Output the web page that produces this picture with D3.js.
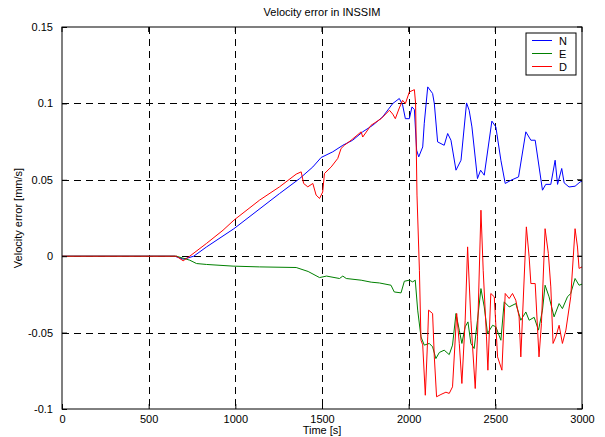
<!DOCTYPE html>
<html>
<head>
  <script src="https://cdnjs.cloudflare.com/ajax/libs/d3/7.8.5/d3.min.js" type="text/javascript"></script>
  <style>
    body { margin: 0; background: #fff; }
    text { font-family: "Liberation Sans", Arial, sans-serif; font-size: 11px; fill: #000; }
  </style>
</head>
<body>
  <svg id="chart" style="width:605px;height:437px;"></svg>
  <script>

var xTicks = [0, 500, 1000, 1500, 2000, 2500, 3000];
var yTicks = [-0.1, -0.05, 0, 0.05, 0.1, 0.15];
var yTickLabels = ["-0.1", "-0.05", "0", "0.05", "0.1", "0.15"];

var seriesNames = ["N", "E", "D"];
var seriesColors = ["#0000ff", "#008000", "#ff0000"];

// N
var tN = [0, 650, 700, 760, 833, 992, 1255, 1371, 1447, 1495, 1562, 1620, 1677, 1735, 1793, 1850, 1908, 1946, 1965, 1981, 2004, 2019, 2033, 2046, 2058, 2081, 2090, 2110, 2138, 2148, 2167, 2205, 2225, 2244, 2273, 2302, 2334, 2349, 2365, 2397, 2415, 2436, 2480, 2503, 2532, 2557, 2590, 2634, 2676, 2705, 2730, 2772, 2791, 2820, 2845, 2859, 2883, 2897, 2925, 2960, 2989, 3000];
var vN = [0, 0, -0.002, 0, 0.006, 0.018, 0.041, 0.0508, 0.0584, 0.0646, 0.0683, 0.0726, 0.0759, 0.0814, 0.0857, 0.0912, 0.0999, 0.1032, 0.099, 0.090, 0.090, 0.0977, 0.096, 0.0694, 0.065, 0.0715, 0.087, 0.1108, 0.1065, 0.0999, 0.0748, 0.0726, 0.0803, 0.0759, 0.0563, 0.0628, 0.1003, 0.0955, 0.0846, 0.0508, 0.0563, 0.053, 0.0884, 0.0846, 0.0628, 0.0476, 0.0497, 0.0519, 0.0814, 0.0759, 0.0759, 0.0432, 0.047, 0.047, 0.0628, 0.047, 0.0574, 0.048, 0.0453, 0.0458, 0.0486, 0.049];

// E
var tE = [0, 660, 737, 776, 833, 987, 1140, 1351, 1420, 1486, 1526, 1601, 1620, 1640, 1726, 1784, 1831, 1898, 1917, 1956, 1975, 2004, 2023, 2038, 2052, 2071, 2090, 2119, 2138, 2157, 2177, 2205, 2234, 2253, 2273, 2292, 2307, 2326, 2342, 2359, 2378, 2397, 2417, 2436, 2455, 2484, 2503, 2532, 2551, 2580, 2618, 2647, 2676, 2695, 2724, 2749, 2772, 2787, 2810, 2839, 2868, 2887, 2916, 2935, 2960, 2983, 3000];
var vE = [0, 0, -0.0026, -0.0048, -0.0054, -0.0065, -0.007, -0.0074, -0.010, -0.014, -0.013, -0.0146, -0.013, -0.0146, -0.0157, -0.017, -0.0175, -0.019, -0.0234, -0.024, -0.0164, -0.0157, -0.0168, -0.0157, -0.0353, -0.0528, -0.0582, -0.0571, -0.0593, -0.067, -0.063, -0.0615, -0.0644, -0.0582, -0.0375, -0.0484, -0.0571, -0.0462, -0.043, -0.0571, -0.0604, -0.0419, -0.0212, -0.0332, -0.0506, -0.0452, -0.0462, -0.055, -0.0299, -0.0332, -0.031, -0.0419, -0.0365, -0.0419, -0.04, -0.0484, -0.0353, -0.019, -0.0266, -0.0397, -0.031, -0.0343, -0.0266, -0.0244, -0.0146, -0.019, -0.0183];

// D
var tD = [0, 660, 699, 737, 833, 929, 992, 1140, 1255, 1351, 1380, 1394, 1418, 1447, 1466, 1486, 1504, 1514, 1553, 1591, 1610, 1629, 1668, 1726, 1735, 1783, 1841, 1889, 1908, 1923, 1946, 1965, 1981, 2004, 2033, 2040, 2048, 2062, 2071, 2081, 2096, 2110, 2115, 2138, 2148, 2161, 2186, 2215, 2234, 2253, 2277, 2292, 2307, 2326, 2340, 2359, 2384, 2397, 2417, 2430, 2449, 2457, 2474, 2494, 2513, 2538, 2557, 2580, 2599, 2618, 2637, 2647, 2679, 2695, 2705, 2730, 2752, 2766, 2787, 2806, 2820, 2833, 2849, 2868, 2887, 2907, 2935, 2960, 2974, 2983, 3000];
var vD = [0, 0, -0.003, 0, 0.0083, 0.017, 0.0236, 0.0367, 0.0454, 0.0537, 0.0552, 0.0476, 0.0454, 0.0476, 0.040, 0.0378, 0.042, 0.0541, 0.0584, 0.064, 0.0705, 0.0726, 0.0759, 0.0814, 0.078, 0.0857, 0.090, 0.0955, 0.093, 0.090, 0.097, 0.102, 0.0999, 0.1075, 0.109, 0.100, 0.040, -0.0092, -0.055, -0.058, -0.091, -0.0528, -0.0353, -0.0375, -0.0659, -0.092, -0.0905, -0.089, -0.0898, -0.0855, -0.0375, -0.057, -0.0833, -0.0419, 0.0061, -0.0419, -0.0866, -0.0528, 0.0301, -0.0092, -0.0528, -0.0746, -0.0244, -0.0266, -0.0659, -0.0746, -0.0244, -0.0277, -0.0244, -0.0288, -0.0397, -0.0659, 0.0192, -0.0004, -0.0179, -0.0179, -0.0659, -0.044, 0.018, 0.0017, -0.0201, -0.0571, -0.0528, -0.0452, -0.0571, -0.0484, -0.0266, 0.018, 0.006, -0.008, -0.007];

var width = 605, height = 437;
var margin = {left: 62, right: 23, top: 27, bottom: 28};

var svg = d3.select("#chart").attr("width", width).attr("height", height);

var x = d3.scaleLinear().domain([0, 3000]).range([margin.left, width - margin.right]);
var y = d3.scaleLinear().domain([-0.1, 0.15]).range([height - margin.bottom, margin.top]);

// grid
svg.append("g").selectAll("line").data(xTicks.slice(1, -1)).enter().append("line")
  .attr("x1", d => Math.round(x(d)) + 0.5).attr("x2", d => Math.round(x(d)) + 0.5)
  .attr("y1", y(0.15)).attr("y2", y(-0.1))
  .attr("stroke", "#000").attr("stroke-dasharray", "7,5").attr("stroke-width", 1);
svg.append("g").selectAll("line").data(yTicks.slice(1, -1)).enter().append("line")
  .attr("y1", d => Math.round(y(d)) + 0.5).attr("y2", d => Math.round(y(d)) + 0.5)
  .attr("x1", x(0)).attr("x2", x(3000))
  .attr("stroke", "#000").attr("stroke-dasharray", "7,5").attr("stroke-width", 1);

// lines
var line = d3.line().x(d => x(d[0])).y(d => y(d[1]));
var series = [
  d3.zip(tN, vN),
  d3.zip(tE, vE),
  d3.zip(tD, vD)
];
series.forEach(function(s, i) {
  svg.append("path").datum(s)
    .attr("d", line)
    .attr("fill", "none")
    .attr("stroke", seriesColors[i])
    .attr("stroke-width", 1)
    .attr("stroke-linejoin", "round");
});

// axes (ticks inside)
var xAxis = d3.axisBottom(x).tickValues(xTicks).tickSize(-5).tickPadding(9).tickFormat(d3.format("d"));
var yAxis = d3.axisLeft(y).tickValues(yTicks).tickSize(-5).tickPadding(9)
  .tickFormat((d, i) => yTickLabels[i]);

var gx = svg.append("g").attr("transform", "translate(0," + y(-0.1) + ")").call(xAxis);
var gy = svg.append("g").attr("transform", "translate(" + x(0) + ",0)").call(yAxis);
[gx, gy].forEach(function(g) {
  g.select(".domain").remove();
  g.selectAll("text").style("font-family", "Liberation Sans, Arial, sans-serif").style("font-size", "11px").attr("fill", "#000");
});
gx.selectAll("text").attr("dy", "0.45em");

// top and right ticks
svg.append("g").selectAll("line").data(xTicks).enter().append("line")
  .attr("x1", d => x(d)).attr("x2", d => x(d)).attr("y1", y(0.15)).attr("y2", y(0.15) + 5)
  .attr("stroke", "#000");
svg.append("g").selectAll("line").data(yTicks).enter().append("line")
  .attr("y1", d => y(d)).attr("y2", d => y(d)).attr("x1", x(3000)).attr("x2", x(3000) - 5)
  .attr("stroke", "#000");

// box
svg.append("rect")
  .attr("x", x(0)).attr("y", y(0.15))
  .attr("width", x(3000) - x(0)).attr("height", y(-0.1) - y(0.15))
  .attr("fill", "none").attr("stroke", "#000").attr("stroke-width", 1);

// title and labels
svg.append("text").attr("x", (x(0) + x(3000)) / 2).attr("y", 16).attr("text-anchor", "middle")
  .text("Velocity error in INSSIM");
svg.append("text").attr("x", (x(0) + x(3000)) / 2).attr("y", 434).attr("text-anchor", "middle")
  .text("Time [s]");
svg.append("text").attr("transform", "translate(22," + ((y(0.15) + y(-0.1)) / 2) + ") rotate(-90)")
  .attr("text-anchor", "middle").text("Velocity error [mm/s]");

// legend
var lg = svg.append("g").attr("transform", "translate(526,33)");
lg.append("rect").attr("width", 50).attr("height", 42).attr("fill", "#fff").attr("stroke", "#000");
seriesNames.forEach(function(n, i) {
  lg.append("line").attr("x1", 6).attr("x2", 26).attr("y1", 7.5 + i * 13).attr("y2", 7.5 + i * 13)
    .attr("stroke", seriesColors[i]);
  lg.append("text").attr("x", 33).attr("y", 11.5 + i * 13).text(n);
});
  </script>
</body>
</html>
